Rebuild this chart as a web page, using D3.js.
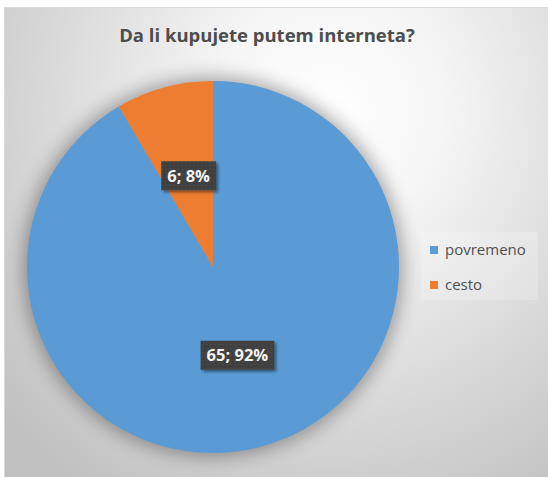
<!DOCTYPE html>
<html>
<head>
<meta charset="utf-8">
<script src="https://cdn.jsdelivr.net/npm/d3@7"></script>
<style>
  html, body { margin: 0; padding: 0; background: #ffffff; }
  svg { display: block; }
</style>
</head>
<body>
<svg id="chart" width="548" height="477"></svg>
<script>
// Survey answers: "Da li kupujete putem interneta?"
const categories = ["povremeno", "cesto"];
const counts = [65, 6];
const percentLabels = ["92%", "8%"];
const colors = ["#5B9BD5", "#ED7D31"];
const title = "Da li kupujete putem interneta?";

const W = 548, H = 477;
const svg = d3.select("#chart");
const defs = svg.append("defs");

// Background: soft radial grey gradient of the chart area
const bg = defs.append("radialGradient")
  .attr("id", "bgGrad")
  .attr("gradientUnits", "userSpaceOnUse")
  .attr("cx", 330).attr("cy", 110).attr("r", 440)
  .attr("fx", 330).attr("fy", 110)
  .attr("gradientTransform", "translate(330,110) scale(1,1.05) translate(-330,-110)");
bg.append("stop").attr("offset", 0).attr("stop-color", "#ffffff");
bg.append("stop").attr("offset", 0.25).attr("stop-color", "#f6f6f6");
bg.append("stop").attr("offset", 0.6).attr("stop-color", "#dcdcdc");
bg.append("stop").attr("offset", 1).attr("stop-color", "#c0c0c0");

// Soft halo behind the pie
defs.append("filter").attr("id", "halo")
  .attr("x", "-30%").attr("y", "-30%").attr("width", "160%").attr("height", "160%")
  .append("feGaussianBlur").attr("stdDeviation", 9);

// Drop shadow for the value boxes
const ds = defs.append("filter").attr("id", "boxShadow")
  .attr("x", "-20%").attr("y", "-30%").attr("width", "150%").attr("height", "180%");
ds.append("feDropShadow").attr("dx", 2).attr("dy", 2).attr("stdDeviation", 1.5)
  .attr("flood-color", "#000").attr("flood-opacity", 0.45);

// Dotted texture inside the value boxes
const pat = defs.append("pattern").attr("id", "dots")
  .attr("patternUnits", "userSpaceOnUse").attr("width", 4).attr("height", 4);
pat.append("rect").attr("width", 4).attr("height", 4).attr("fill", "#404040");
pat.append("rect").attr("x", 1).attr("y", 1).attr("width", 1).attr("height", 1).attr("fill", "#555555");

// Chart area
svg.append("rect").attr("x", 0).attr("y", 0).attr("width", W).attr("height", H).attr("fill", "#ffffff");
svg.append("rect")
  .attr("x", 4.5).attr("y", 7.5).attr("width", W - 4).attr("height", H - 7)
  .attr("fill", "url(#bgGrad)")
  .attr("stroke", "#d9d9d9").attr("stroke-width", 1);

// Title
svg.append("text")
  .attr("x", 267).attr("y", 41.5)
  .attr("text-anchor", "middle")
  .attr("font-family", "'Open Sans', 'Noto Sans', sans-serif")
  .attr("font-weight", "bold")
  .attr("font-size", 18.5)
  .attr("fill", "#4d4d4d")
  .text(title);

// Pie
const cx = 213, cy = 267, R = 186;
const g = svg.append("g").attr("transform", `translate(${cx},${cy})`);

g.append("circle").attr("r", R + 4)
  .attr("fill", "#000").attr("opacity", 0.33)
  .attr("filter", "url(#halo)");

const data = categories.map((c, i) => ({ name: c, value: counts[i], pct: percentLabels[i], color: colors[i] }));
const pie = d3.pie().value(d => d.value).sort(null);
const arcs = pie(data);
const arc = d3.arc().innerRadius(0).outerRadius(R);

g.selectAll("path.slice")
  .data(arcs)
  .enter().append("path")
  .attr("class", "slice")
  .attr("d", arc)
  .attr("fill", d => d.data.color);

// Value labels: "count; percent" in dark boxes
const labelG = g.selectAll("g.lbl")
  .data(arcs)
  .enter().append("g")
  .attr("class", "lbl")
  .attr("transform", d => {
    const [x, y] = arc.centroid(d);
    return `translate(${x},${y - 1.5})`;
  });

labelG.each(function(d) {
  const sel = d3.select(this);
  const t = sel.append("text")
    .attr("text-anchor", "middle")
    .attr("dy", "0.36em")
    .attr("font-family", "'Open Sans', 'Noto Sans', sans-serif")
    .attr("font-weight", "bold")
    .attr("font-size", 16.5)
    .attr("fill", "#f4f4f4")
    .text(`${d.data.value}; ${d.data.pct}`);
  const bb = t.node().getBBox();
  const padX = 6, h = 29;
  sel.insert("rect", "text")
    .attr("x", bb.x - padX).attr("y", -h / 2)
    .attr("width", bb.width + padX * 2).attr("height", h)
    .attr("fill", "url(#dots)")
    .attr("filter", "url(#boxShadow)");
});

// Legend
const lg = svg.append("g");
lg.append("rect")
  .attr("x", 421).attr("y", 232).attr("width", 117).attr("height", 68)
  .attr("fill", "#ffffff").attr("opacity", 0.2);
const items = lg.selectAll("g.item")
  .data(data)
  .enter().append("g")
  .attr("class", "item")
  .attr("transform", (d, i) => `translate(430,${246 + i * 35})`);
items.append("rect").attr("width", 8).attr("height", 8).attr("fill", d => d.color);
items.append("text")
  .attr("x", 15).attr("y", 9)
  .attr("font-family", "'Open Sans', 'Noto Sans', sans-serif")
  .attr("font-size", 15)
  .attr("fill", "#505050")
  .text(d => d.name);
</script>
</body>
</html>
